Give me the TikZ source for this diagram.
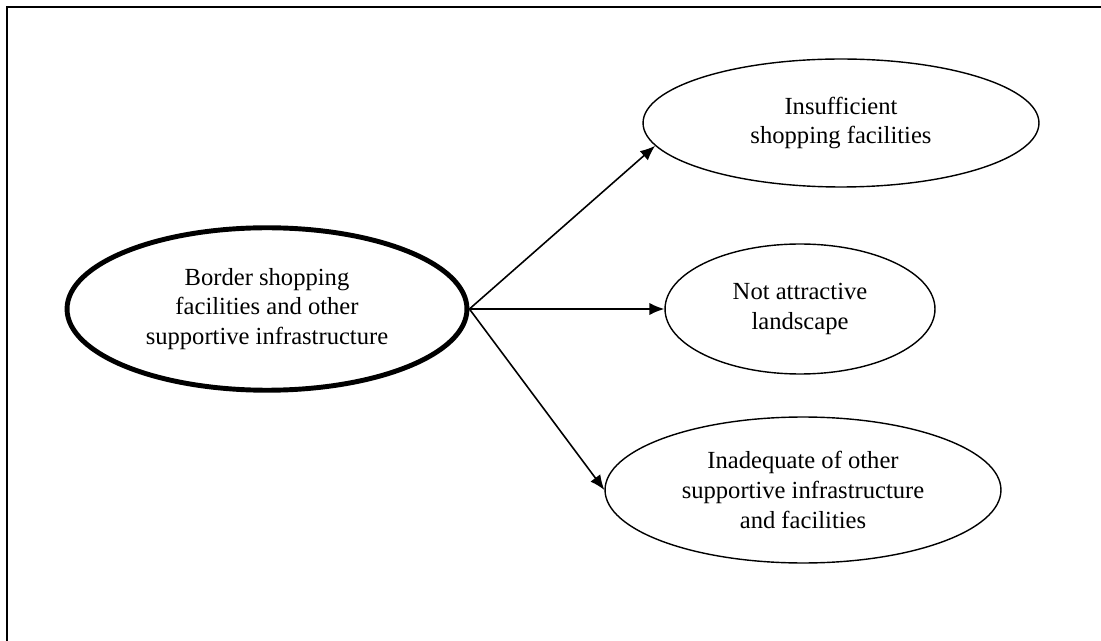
\documentclass[tikz,border=0pt]{standalone}
\usepackage{fontspec}
\setmainfont{Liberation Serif}
\usetikzlibrary{arrows.meta,shapes.geometric}

\tikzset{
  cause/.style={ellipse, draw, line width=0.8pt, inner sep=0pt,
    align=center, font=\fontsize{14}{17}\selectfont},
  link/.style={->, line width=0.9pt}
}

\begin{document}
\begin{tikzpicture}[>={Latex[length=8.5pt,width=7pt]}, x=0.02cm, y=-0.02cm]

% Page size in pixels of the scan
\def\pagewidth{1101}
\def\pageheight{641}
\useasboundingbox (0,0) rectangle (\pagewidth,\pageheight);

% Frame, only top and left edges are left on the page
\draw[line width=1.1pt]
    (7,\pageheight) -- (7,7) -- (\pagewidth,7);

% Main factor
\node[cause, line width=2.8pt, minimum width=8.0cm, minimum height=3.25cm]
    (border) at (267,309)
    {Border shopping\\facilities and other\\supportive infrastructure};

% Problems on the right
\node[cause, minimum width=7.92cm, minimum height=2.56cm]
    (shops) at (841,123)
    {Insufficient\\shopping facilities};

\node[cause, minimum width=5.4cm, minimum height=2.6cm]
    (landscape) at (800,309)
    {Not attractive\\landscape};

\node[cause, minimum width=7.92cm, minimum height=2.92cm]
    (infra) at (803,490)
    {Inadequate of other\\supportive infrastructure\\and facilities};

% Links
\draw[link] (border.east) -- (shops.187);
\draw[link] (border.east) -- (landscape.west);
\draw[link] (border.east) -- (infra.west);

\end{tikzpicture}
\end{document}
